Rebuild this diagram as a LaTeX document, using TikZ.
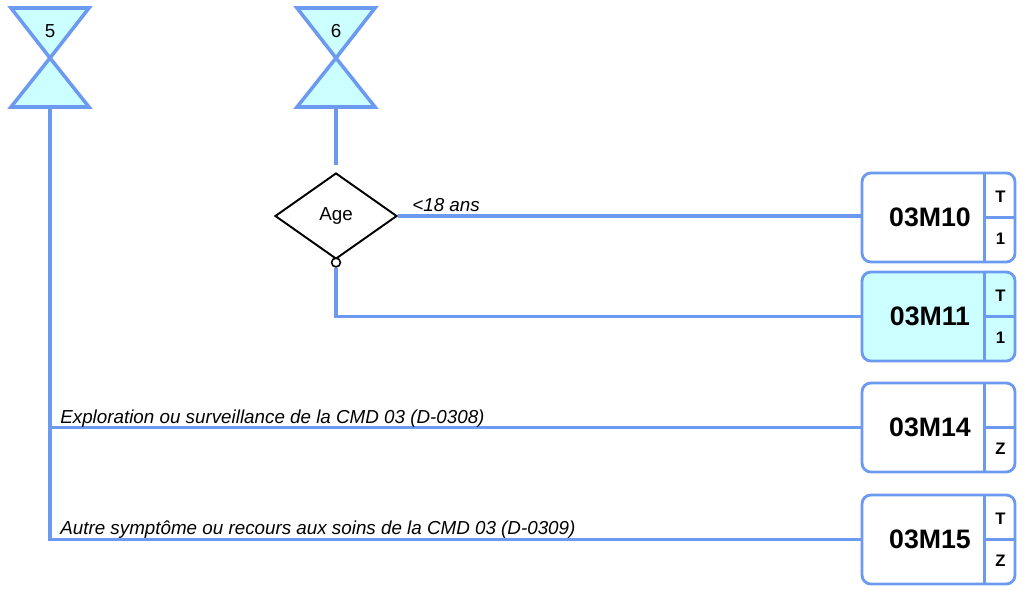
\documentclass[tikz,border=0pt]{standalone}
\usepackage{fontspec}
\setmainfont{Liberation Sans}
\usepackage{tikz}
\usetikzlibrary{positioning,shapes.geometric,calc}

\begin{document}
\begin{tikzpicture}[x=0.02cm,y=-0.02cm]
\definecolor{link}{RGB}{108,154,240}
\definecolor{pale}{RGB}{204,255,255}
\tikzset{
     wire/.style={draw=link, line width=1.8pt},
     gbox/.style={draw=link, line width=1.6pt, rounded corners=5pt, minimum width=3.06cm, minimum height=1.78cm, inner sep=0pt},
     glass/.style={draw=link, fill=pale, line width=2pt, line join=miter},
     small/.style={font=\fontsize{10.7}{12}\selectfont, inner sep=0pt},
     code/.style={font=\fontsize{15.2}{18}\bfseries\selectfont},
     tag/.style={font=\fontsize{9.5}{11}\bfseries\selectfont}}

\useasboundingbox (0,0) rectangle (1027,589);

% The hourglasses
\filldraw[glass] (11,8) -- (89,8) -- (50,58) -- cycle;
\filldraw[glass] (50,58) -- (89,107) -- (11,107) -- cycle;
\filldraw[glass] (297,8) -- (375,8) -- (336,58) -- cycle;
\filldraw[glass] (336,58) -- (375,107) -- (297,107) -- cycle;
\node[small] (n5) at (50,31) {5};
\node[small] (n6) at (336,31) {6};
\coordinate (h5) at (50,107);
\coordinate (h6) at (336,107);

% The test
\node (age) [diamond, draw, line width=1.1pt, minimum width=2.44cm, minimum height=1.72cm, inner sep=0pt, small] at (336,216) {Age};
\node (dot) [circle, draw, line width=0.9pt, fill=white, inner sep=0pt, minimum size=5pt, below=-1.5pt of age.south] {};

% The boxes
\newcommand{\gcell}[6]{%
  \node (#1) [gbox, fill=#6] at (#2) {};
  \draw[link, line width=1.6pt] ($(#1.north east)+(-32,0)$) -- ($(#1.south east)+(-32,0)$);
  \draw[link, line width=1.6pt] ($(#1.east)+(-32,0)$) -- (#1.east);
  \node[code] at ($(#1.center)+(-8.5,0)$) {#3};
  \node[tag] at ($(#1.east)+(-16,-21)$) {#4};
  \node[tag] at ($(#1.east)+(-16,21)$) {#5};}
\gcell{m10}{938.5,217.5}{03M10}{T}{1}{white}
\gcell{m11}{938.5,316.5}{03M11}{T}{1}{pale}
\gcell{m14}{938.5,427.5}{03M14}{}{Z}{white}
\gcell{m15}{938.5,539.5}{03M15}{T}{Z}{white}

% The connectors
\draw[wire] (h6) -- ([yshift=4pt]age.north);
\draw[wire] (age.east) -- (age.east -| m10.west);
\draw[wire] (dot.south) |- (m11.west);
\draw[wire] (h5) |- (m15.west);
\draw[wire] (h5) |- (m14.west);

% The labels
\node[small, anchor=base west] at (412,211) {\itshape <18 ans};
\node[small, anchor=base west] at (60,423) {\itshape Exploration ou surveillance de la CMD 03 (D-0308)};
\node[small, anchor=base west] at (60,534) {\itshape Autre symptôme ou recours aux soins de la CMD 03 (D-0309)};
\end{tikzpicture}
\end{document}
